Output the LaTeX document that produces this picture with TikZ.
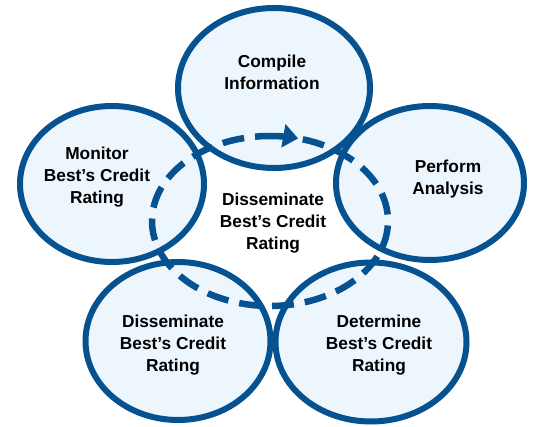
\documentclass[tikz,border=0pt]{standalone}
\usepackage{fontspec}
\setmainfont{Liberation Sans}
\usetikzlibrary{shapes.geometric,decorations.markings,arrows.meta}
\definecolor{ringblue}{RGB}{6,82,145}
\definecolor{ringfill}{RGB}{238,246,253}
\tikzset{
  ringfillstyle/.style={ellipse, fill=ringfill, inner sep=0pt},
  ringstroke/.style={draw=ringblue, line width=6pt},
  label text/.style={align=center, font=\fontsize{17.3}{22}\selectfont\bfseries, text=black, inner sep=0pt},
  cycle dash/.style={draw=ringblue, line width=6.5pt, dash pattern=on 22pt off 11pt,
    decoration={markings, mark=at position 0.044 with {\arrow[ringblue]{Triangle[length=15pt,width=23pt]}}},
    postaction={decorate}}
}
\begin{document}
\begin{tikzpicture}[x=1pt,y=-1pt]
\useasboundingbox (0,0) rectangle (535,427);
% fills
\node[ringfillstyle, minimum width=192pt, minimum height=160pt] (compile) at (274,88) {};
\node[ringfillstyle, minimum width=188pt, minimum height=154pt] (perform) at (430,183) {};
\node[ringfillstyle, minimum width=184pt, minimum height=156pt] (monitor) at (112,184) {};
\node[ringfillstyle, minimum width=185pt, minimum height=158pt] (dissem) at (178,341) {};
\node[ringfillstyle, minimum width=191pt, minimum height=159pt] (determine) at (371,342) {};
% dashed cycle
\coordinate (cyc) at (270,221);
\path[cycle dash] (cyc) ++(0,-85) arc[start angle=-90, end angle=270, x radius=118, y radius=85];
% strokes
\draw[ringstroke] (compile) ellipse [x radius=96, y radius=80];
\draw[ringstroke] (perform) ellipse [x radius=94, y radius=77];
\draw[ringstroke] (monitor) ellipse [x radius=92, y radius=78];
\draw[ringstroke] (dissem) ellipse [x radius=92.5, y radius=79];
\draw[ringstroke] (determine) ellipse [x radius=95.5, y radius=79.5];
% texts
\node[label text] (tcompile) at (272,72) {Compile\\Information};
\node[label text] (tperform) at (448,179) {Perform\\Analysis};
\node[label text] (tmonitor) at (97,177) {Monitor\\Best’s Credit\\Rating};
\node[label text] (tcenter) at (273,223) {Disseminate\\Best’s Credit\\Rating};
\node[label text] (tdissem) at (173,345) {Disseminate\\Best’s Credit\\Rating};
\node[label text] (tdetermine) at (379,345) {Determine\\Best’s Credit\\Rating};
\end{tikzpicture}
\end{document}
